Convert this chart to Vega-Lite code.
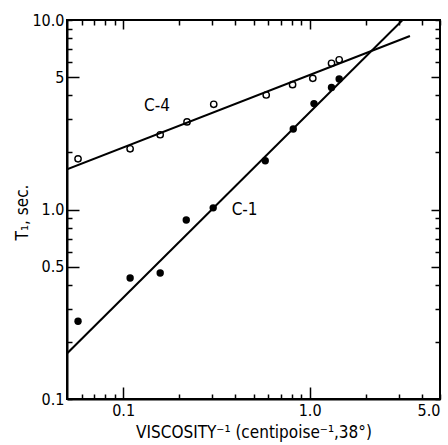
{
  "$schema": "https://vega.github.io/schema/vega-lite/v6.json",
  "width": 373,
  "height": 379,
  "autosize": {"type": "none"},
  "padding": {"left": 67, "top": 20, "right": 8, "bottom": 46},
  "background": "white",
  "config": {
    "view": {"stroke": "black", "strokeWidth": 2},
    "font": "Liberation Sans Narrow, DejaVu Sans Condensed, Liberation Sans",
    "axis": {
      "grid": false,
      "domainColor": "black",
      "domainWidth": 2,
      "tickColor": "black",
      "tickWidth": 1.5,
      "labelColor": "black",
      "labelFontSize": 16,
      "labelFont": "Liberation Sans Narrow, DejaVu Sans Condensed, Liberation Sans",
      "titleColor": "black",
      "titleFont": "Liberation Sans Narrow, DejaVu Sans Condensed, Liberation Sans",
      "titleFontWeight": "normal",
      "titleFontSize": 17
    }
  },
  "datasets": {
    "lines": [
      {"series": "C-4", "x": 0.05, "y": 1.63},
      {"series": "C-4", "x": 3.45, "y": 8.23},
      {"series": "C-1", "x": 0.05, "y": 0.174},
      {"series": "C-1", "x": 3.15, "y": 10.0}
    ],
    "c4": [
      {"x": 0.0573, "y": 1.85},
      {"x": 0.109, "y": 2.09},
      {"x": 0.158, "y": 2.48},
      {"x": 0.220, "y": 2.90},
      {"x": 0.306, "y": 3.59},
      {"x": 0.585, "y": 4.02},
      {"x": 0.81, "y": 4.56},
      {"x": 1.04, "y": 4.92},
      {"x": 1.31, "y": 5.91},
      {"x": 1.44, "y": 6.17}
    ],
    "c1": [
      {"x": 0.0573, "y": 0.257},
      {"x": 0.109, "y": 0.435},
      {"x": 0.158, "y": 0.462},
      {"x": 0.218, "y": 0.88},
      {"x": 0.304, "y": 1.02},
      {"x": 0.578, "y": 1.81},
      {"x": 0.817, "y": 2.66},
      {"x": 1.055, "y": 3.62},
      {"x": 1.31, "y": 4.41},
      {"x": 1.44, "y": 4.88}
    ],
    "labels": [
      {"label": "C-4", "x": 0.152, "y": 3.52},
      {"label": "C-1", "x": 0.448, "y": 0.99}
    ]
  },
  "resolve": {"axis": {"x": "independent", "y": "independent"}},
  "layer": [
    {
      "data": {"name": "lines"},
      "mark": {"type": "line", "color": "black", "strokeWidth": 2, "clip": true},
      "encoding": {
        "x": {
          "field": "x", "type": "quantitative",
          "scale": {"type": "log", "domain": [0.05, 5.0], "nice": false},
          "axis": {
            "orient": "bottom",
            "title": "VISCOSITY⁻¹   (centipoise⁻¹,38°)",
            "values": [0.06, 0.07, 0.08, 0.09, 0.1, 0.2, 0.3, 0.4, 0.5, 0.6, 0.7, 0.8, 0.9, 1, 2, 3, 4, 5],
            "labelExpr": "datum.value == 0.1 ? '0.1' : datum.value == 1 ? '1.0' : datum.value == 5 ? '5.0' : ''",
            "tickSize": {"condition": {"test": "datum.value == 0.1 || datum.value == 1", "value": -12}, "value": -5},
            "labelPadding": {"condition": {"test": "datum.value == 0.1 || datum.value == 1", "value": 15}, "value": 8},
            "labelFlush": true,
            "titlePadding": 6
          }
        },
        "y": {
          "field": "y", "type": "quantitative",
          "scale": {"type": "log", "domain": [0.1, 10], "nice": false},
          "axis": {
            "orient": "left",
            "title": "T₁, sec.",
            "values": [0.1, 0.2, 0.3, 0.4, 0.5, 0.6, 0.7, 0.8, 0.9, 1, 2, 3, 4, 5, 6, 7, 8, 9, 10],
            "labelExpr": "datum.value == 0.1 ? '0.1' : datum.value == 0.5 ? '0.5' : datum.value == 1 ? '1.0' : datum.value == 5 ? '5' : datum.value == 10 ? '10.0' : ''",
            "tickSize": {"condition": {"test": "datum.value == 0.5 || datum.value == 1 || datum.value == 5", "value": -12}, "value": -5},
            "labelPadding": {"condition": {"test": "datum.value == 0.5 || datum.value == 1 || datum.value == 5", "value": 15}, "value": 8},
            "labelFlush": false,
            "titleX": -40,
            "titleY": 192,
            "titleAngle": -90,
            "titleAlign": "center",
            "titleBaseline": "alphabetic"
          }
        },
        "detail": {"field": "series"}
      }
    },
    {
      "data": {"name": "c4"},
      "mark": {"type": "point", "shape": "circle", "filled": false, "color": "black", "strokeWidth": 1.4, "size": 40, "opacity": 1},
      "encoding": {
        "x": {
          "field": "x", "type": "quantitative",
          "axis": {
            "orient": "top", "title": null, "labels": false, "domain": false,
            "values": [0.06, 0.07, 0.08, 0.09, 0.1, 0.2, 0.3, 0.4, 0.5, 0.6, 0.7, 0.8, 0.9, 1, 2, 3, 4, 5],
            "tickSize": {"condition": {"test": "datum.value == 0.1 || datum.value == 1", "value": -9}, "value": -5}
          }
        },
        "y": {
          "field": "y", "type": "quantitative",
          "axis": {
            "orient": "right", "title": null, "labels": false, "domain": false,
            "values": [0.1, 0.2, 0.3, 0.4, 0.5, 0.6, 0.7, 0.8, 0.9, 1, 2, 3, 4, 5, 6, 7, 8, 9, 10],
            "tickSize": {"condition": {"test": "datum.value == 0.5 || datum.value == 1 || datum.value == 5", "value": -9}, "value": -5}
          }
        }
      }
    },
    {
      "data": {"name": "c1"},
      "mark": {"type": "point", "shape": "circle", "filled": true, "color": "black", "size": 55, "opacity": 1},
      "encoding": {
        "x": {"field": "x", "type": "quantitative", "axis": null},
        "y": {"field": "y", "type": "quantitative", "axis": null}
      }
    },
    {
      "data": {"name": "labels"},
      "mark": {"type": "text", "color": "black", "fontSize": 17, "font": "Liberation Sans Narrow, DejaVu Sans Condensed, Liberation Sans"},
      "encoding": {
        "x": {"field": "x", "type": "quantitative", "axis": null},
        "y": {"field": "y", "type": "quantitative", "axis": null},
        "text": {"field": "label"}
      }
    }
  ]
}
